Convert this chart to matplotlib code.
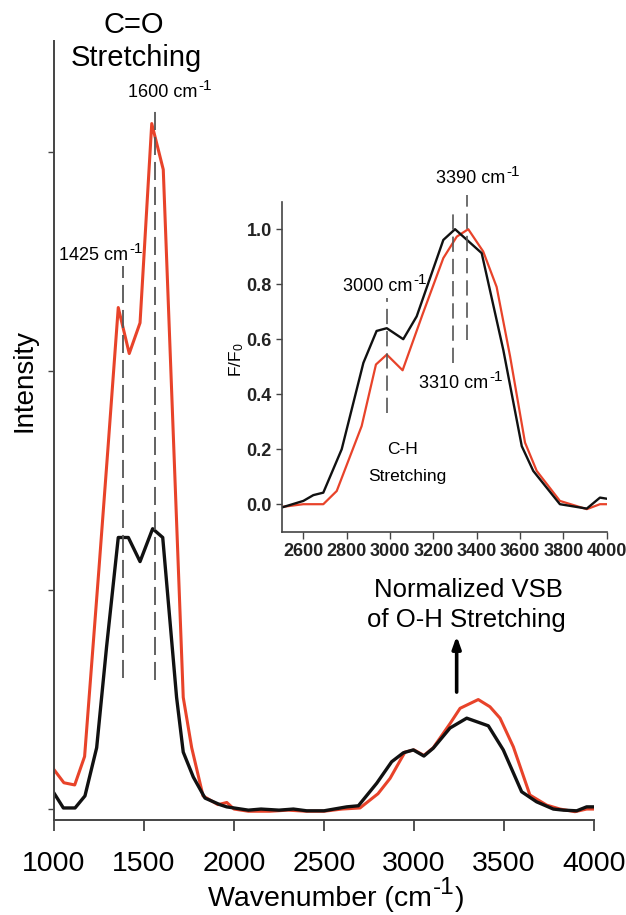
import matplotlib
matplotlib.use('Agg')
import matplotlib.pyplot as plt

plt.rcParams['font.family'] = ['Liberation Sans', 'DejaVu Sans']
plt.rcParams['mathtext.fontset'] = 'custom'
plt.rcParams['mathtext.rm'] = 'Liberation Sans'
plt.rcParams['mathtext.it'] = 'Liberation Sans:italic'
plt.rcParams['mathtext.bf'] = 'Liberation Sans:bold'
plt.rcParams['lines.scale_dashes'] = False

# ---------------- data ----------------
main_red_wn = [1000, 1055, 1115, 1170, 1250, 1300, 1357, 1418, 1478, 1543, 1607, 1718,
               1765, 1828, 1911, 1960, 2000, 2080, 2200, 2300, 2400, 2500, 2600, 2700,
               2800, 2867, 2922, 2950, 3000, 3055, 3107, 3200, 3256, 3357, 3422, 3478,
               3552, 3644, 3737, 3811, 3894, 3959, 4000]
main_red_int = [0.18, 0.12, 0.11, 0.24, 1.10, 1.65, 2.29, 2.08, 2.22, 3.13, 2.92, 0.51,
                0.28, 0.06, 0.02, 0.03, 0.0, -0.01, -0.01, -0.005, -0.01, -0.01, 0.0, 0.005,
                0.07, 0.14, 0.22, 0.26, 0.27, 0.245, 0.28, 0.39, 0.46, 0.50, 0.467, 0.415,
                0.284, 0.064, 0.018, 0.0, -0.012, 0.0, 0.0]

main_blk_wn = [1000, 1052, 1117, 1172, 1237, 1292, 1357, 1413, 1478, 1548, 1604, 1681,
               1718, 1774, 1839, 1922, 1959, 2080, 2150, 2250, 2330, 2404, 2500, 2626,
               2691, 2793, 2876, 2941, 2996, 3055, 3107, 3200, 3293, 3413, 3496, 3598,
               3681, 3774, 3830, 3904, 3959, 4000]
main_blk_int = [0.073, 0.005, 0.005, 0.06, 0.28, 0.74, 1.24, 1.24, 1.13, 1.28, 1.24, 0.51,
                0.26, 0.146, 0.05, 0.02, 0.01, -0.005, 0.0, -0.005, 0.0, -0.008, -0.008, 0.01,
                0.015, 0.118, 0.216, 0.257, 0.27, 0.242, 0.278, 0.37, 0.415, 0.38, 0.27, 0.079,
                0.033, 0.0, -0.005, -0.008, 0.01, 0.01]

inset_blk_wn = [2500, 2600, 2646, 2692, 2777, 2877, 2938, 2985, 3061, 3123, 3246, 3300,
                3423, 3523, 3608, 3661, 3784, 3908, 3969, 4000]
inset_blk_f = [-0.012, 0.012, 0.033, 0.042, 0.20, 0.514, 0.63, 0.64, 0.60, 0.683, 0.961, 1.0,
               0.913, 0.56, 0.211, 0.121, 0.0, -0.016, 0.024, 0.02]

inset_red_wn = [2500, 2600, 2692, 2754, 2869, 2935, 2985, 3058, 3150, 3246, 3308, 3361,
                3430, 3492, 3554, 3623, 3677, 3784, 3908, 3969, 4000]
inset_red_f = [-0.01, 0.0, 0.0, 0.048, 0.284, 0.508, 0.544, 0.487, 0.69, 0.895, 0.973, 1.0,
               0.919, 0.79, 0.538, 0.224, 0.121, 0.012, -0.018, 0.0, 0.0]

main_xticks = [1000, 1500, 2000, 2500, 3000, 3500, 4000]
main_yticks = [0, 1, 2, 3]
inset_xticks = [2600, 2800, 3000, 3200, 3400, 3600, 3800, 4000]
inset_yticks = [0.0, 0.2, 0.4, 0.6, 0.8, 1.0]

main_mark_wn = [1385, 1561]
main_mark_lo = [0.60, 0.59]
main_mark_hi = [2.48, 3.21]
inset_mark_wn = [2985, 3292, 3354]
inset_mark_lo = [0.33, 0.514, 0.598]
inset_mark_hi = [0.75, 1.064, 1.124]

RED = '#E8432A'
BLK = '#111111'
SPINE = '#444444'
DASH = '#555555'

# ---------------- figure ----------------
W, H = 626, 915
fig = plt.figure(figsize=(W / 100, H / 100), dpi=100)
renderer = fig.canvas.get_renderer()


def fx(px):
    return px / W


def fy(py):
    return 1 - py / H


def rich(xc, yb, pieces, fs, sup_scale=0.85, rise=0.40):
    """Draw text pieces centred at pixel xc, baseline pixel yb (from top).
    pieces: list of (string, is_superscript)."""
    objs = []
    for s, sup in pieces:
        size = fs * sup_scale if sup else fs
        t = fig.text(0, 0, s, ha='left', va='baseline', fontsize=size)
        w = t.get_window_extent(renderer).width
        objs.append((t, w, sup))
    gap = 1.0
    total = sum(w for _, w, _ in objs) + gap * (len(objs) - 1)
    x = xc - total / 2
    for t, w, sup in objs:
        dy = rise * fs * 100 / 72 if sup else 0
        t.set_position((fx(x), fy(yb - dy)))
        x += w + gap


ax = fig.add_axes([fx(54), fy(820), fx(594) - fx(54), fy(41) - fy(820)])
ax.plot(main_red_wn, main_red_int, color=RED, lw=2.2)
ax.plot(main_blk_wn, main_blk_int, color=BLK, lw=2.4)
ax.vlines(main_mark_wn, main_mark_lo, main_mark_hi, colors=DASH, linestyles=[(0, (13, 5))], lw=1.3)
ax.set_xlim(1000, 4000)
ax.set_ylim(-0.05, 3.507)
ax.set_xticks(main_xticks)
ax.set_xticklabels([str(t) for t in main_xticks])
ax.set_yticks(main_yticks)
ax.set_yticklabels([])
for s in ['top', 'right']:
    ax.spines[s].set_visible(False)
for s in ['left', 'bottom']:
    ax.spines[s].set_color(SPINE)
    ax.spines[s].set_linewidth(1.4)
ax.tick_params(axis='x', length=8, width=1.3, color=SPINE, labelsize=20.5, pad=14)
ax.tick_params(axis='y', length=4, width=1.0, color=SPINE)
ax.annotate('', xy=(3237, 0.79), xytext=(3237, 0.534),
            arrowprops=dict(arrowstyle='-|>,head_length=0.7,head_width=0.25', color='k', lw=2.6,
                            shrinkA=0, shrinkB=0))

# inset
ax2 = fig.add_axes([fx(281.7), fy(531.7), fx(606.7) - fx(281.7), fy(201.7) - fy(531.7)])
ax2.set_facecolor('none')
ax2.plot(inset_red_wn, inset_red_f, color=RED, lw=1.6)
ax2.plot(inset_blk_wn, inset_blk_f, color=BLK, lw=1.7)
ax2.vlines(inset_mark_wn, inset_mark_lo, inset_mark_hi, colors=DASH, linestyles=[(0, (11, 5))],
           lw=1.2, clip_on=False)
ax2.set_xlim(2500, 4000)
ax2.set_ylim(-0.1, 1.1)
ax2.set_xticks(inset_xticks)
ax2.set_xticklabels([str(t) for t in inset_xticks], fontweight='bold', color='#222222')
ax2.set_yticks(inset_yticks)
ax2.set_yticklabels(['%.1f' % t for t in inset_yticks], fontweight='bold', color='#222222')
for s in ['top', 'right']:
    ax2.spines[s].set_visible(False)
for s in ['left', 'bottom']:
    ax2.spines[s].set_color(SPINE)
    ax2.spines[s].set_linewidth(1.2)
ax2.tick_params(axis='x', length=5, width=1.0, color=SPINE, labelsize=13, pad=3)
ax2.tick_params(axis='y', length=4, width=1.0, color=SPINE, labelsize=13, pad=3)

# ---------------- texts ----------------
fig.text(fx(134), fy(25), 'C=O', ha='center', va='center', fontsize=21)
fig.text(fx(136), fy(58), 'Stretching', ha='center', va='center', fontsize=21)
rich(170, 97, [('1600 cm', False), ('-1', True)], 13)
rich(101, 260, [('1425 cm', False), ('-1', True)], 13)
rich(478, 183, [('3390 cm', False), ('-1', True)], 13)
rich(385, 291, [('3000 cm', False), ('-1', True)], 13)
rich(461, 388, [('3310 cm', False), ('-1', True)], 13)
fig.text(fx(402), fy(450), 'C-H', ha='center', va='center', fontsize=12.5)
fig.text(fx(407), fy(477), 'Stretching', ha='center', va='center', fontsize=12.5)
fig.text(fx(468), fy(590), 'Normalized VSB', ha='center', va='center', fontsize=18.5)
fig.text(fx(466), fy(620), 'of O-H Stretching', ha='center', va='center', fontsize=18.5)
fig.text(fx(25), fy(380), 'Intensity', ha='center', va='center', rotation=90, fontsize=20)
fig.text(fx(237), fy(360), 'F/F$_0$', ha='center', va='center', rotation=90, fontsize=12.5)
rich(336, 906, [('Wavenumber (cm', False), ('-1', True), (')', False)], 20.5, rise=0.42)

fig.savefig('out.png', dpi=100)
